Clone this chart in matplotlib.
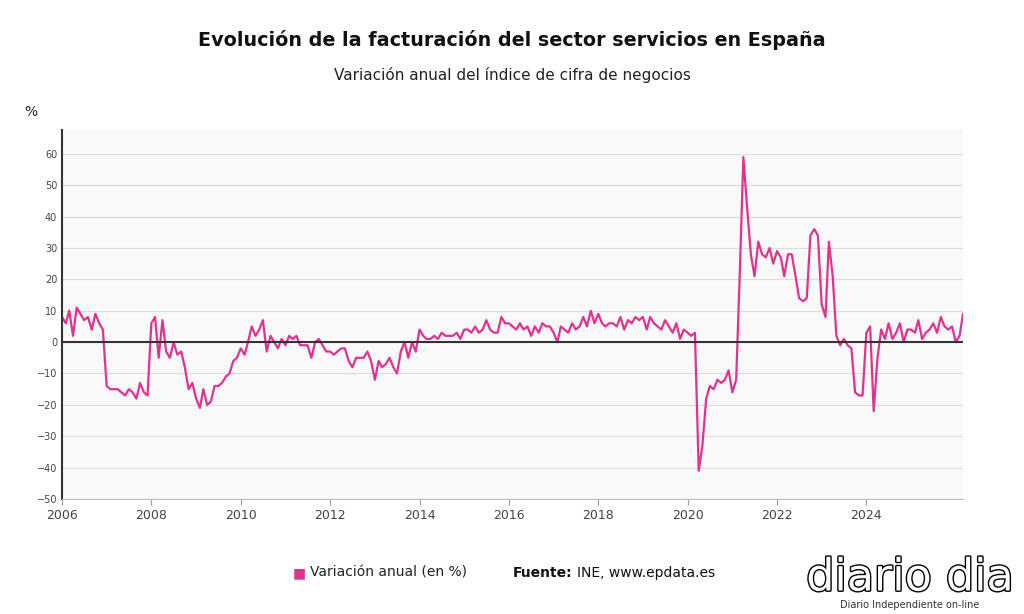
import matplotlib
matplotlib.use("Agg")
import matplotlib.pyplot as plt
import matplotlib.patheffects as pe
import numpy as np
import pandas as pd

values = [
 8,6,10,2,11,9,7,8,4,9,6,4,
 -14,-15,-15,-15,-16,-17,-15,-16,-18,-13,-16,-17,
 6,8,-5,7,-3,-5,0,-4,-3,-8,-15,-13,
 -18,-21,-15,-20,-19,-14,-14,-13,-11,-10,-6,-5,
 -2,-4,0,5,2,4,7,-3,2,0,-2,1,
 -1,2,1,2,-1,-1,-1,-5,0,1,-1,-3,
 -3,-4,-3,-2,-2,-6,-8,-5,-5,-5,-3,-6,
 -12,-6,-8,-7,-5,-8,-10,-3,0,-5,0,-3,
 4,2,1,1,2,1,3,2,2,2,3,1,
 4,4,3,5,3,4,7,4,3,3,8,6,
 6,5,4,6,4,5,2,5,3,6,5,5,
 3,0,5,4,3,6,4,5,8,5,10,6,
 9,6,5,6,6,5,8,4,7,6,8,7,
 8,4,8,6,5,4,7,5,3,6,1,4,
 3,2,3,-41,-33,-18,-14,-15,-12,-13,-12,-9,
 -16,-12,20,59,43,28,21,32,28,27,30,25,
 29,27,21,28,28,21,14,13,14,34,36,34,
 12,8,32,21,2,-1,1,-1,-2,-16,-17,-17,
 3,5,-22,-5,4,1,6,1,3,6,0,4,
 4,3,7,1,3,4,6,3,8,5,4,5,
 0,2,9,
]
dates = pd.date_range("2006-01-01", periods=len(values), freq="MS")
years = [2006,2008,2010,2012,2014,2016,2018,2020,2022,2024]
yticks = list(range(-50, 61, 10))

plt.rcParams['font.family'] = ['DejaVu Sans']
fig = plt.figure(figsize=(10.24, 6.14), dpi=100)
ax = fig.add_axes([62/1024, 1-499/614, (963-62)/1024, (499-130)/614])
ax.set_facecolor("#f9f9f9")
ax.plot(dates, values, color="#e0338f", lw=1.6, label="Variación anual (en %)")
ax.axhline(0, color="#333333", lw=1.5)
ax.set_ylim(-50, 67.6)
ax.set_xlim(pd.Timestamp("2006-01-01"), dates[-1])
ax.set_yticks(yticks)
ax.set_xticks([pd.Timestamp(f"{y}-01-01") for y in years])
ax.set_xticklabels([str(y) for y in years], fontsize=9, color="#444")
ax.tick_params(axis='y', labelsize=7, colors="#444", length=0)
ax.tick_params(axis='x', length=4, color="#999")
ax.grid(axis='y', color="#dddddd", lw=0.9)
ax.set_axisbelow(True)
for s in ["top", "right"]:
    ax.spines[s].set_visible(False)
ax.spines["left"].set_color("#333")
ax.spines["left"].set_linewidth(1.5)
ax.spines["bottom"].set_color("#bbb")

fig.text(0.5, 1-40/614, "Evolución de la facturación del sector servicios en España",
         ha="center", va="center", fontsize=13.8, fontweight="bold", color="#111")
fig.text(0.5, 1-75/614, "Variación anual del índice de cifra de negocios",
         ha="center", va="center", fontsize=11, color="#222")
fig.text(24/1024, 1-112/614, "%", fontsize=10, va="center", color="#222")

fig.text(293/1024, 1-573/614, "■", fontsize=10, color="#e0338f", va="center")
fig.text(310/1024, 1-573/614, "Variación anual (en %)", fontsize=10, color="#222", va="center")
fig.text(513/1024, 1-573/614, "Fuente:", fontsize=10, fontweight="bold", color="#111", va="center")
fig.text(577/1024, 1-573/614, "INE, www.epdata.es", fontsize=10, color="#111", va="center")
fig.text(910/1024, 1-578/614, "diario dia", fontsize=32, ha="center", va="center",
         color="white", path_effects=[pe.withStroke(linewidth=2, foreground="black")])
fig.text(910/1024, 1-605/614, "Diario Independiente on-line", fontsize=7, ha="center", va="center", color="#333")
fig.savefig("out.png", dpi=100)
